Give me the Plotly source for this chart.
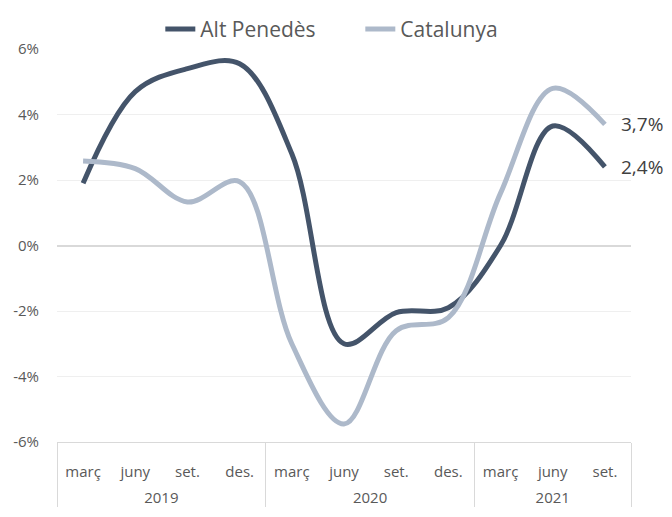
import plotly.graph_objects as go

years = ["2019", "2019", "2019", "2019", "2020", "2020", "2020", "2020", "2021", "2021", "2021"]
quarters = ["març", "juny", "set.", "des.", "març", "juny", "set.", "des.", "març", "juny", "set."]
alt_penedes = [1.9, 4.7, 5.4, 5.55, 2.8, -3.0, -2.05, -1.9, 0.0, 3.65, 2.4]
catalunya = [2.58, 2.35, 1.33, 1.95, -3.0, -5.45, -2.6, -2.2, 1.6, 4.8, 3.7]
end_labels = ["2,4%", "3,7%"]
y_ticks = [-6, -4, -2, 0, 2, 4, 6]
y_tick_labels = ["-6%", "-4%", "-2%", "0%", "2%", "4%", "6%"]

DARK = "#44546a"
LIGHT = "#adb9ca"
TXT = "#595959"
FONT = "Open Sans"

year_row = ["<br>" + y for y in years]

fig = go.Figure()
fig.add_trace(go.Scatter(x=[year_row, quarters], y=alt_penedes, name="Alt Penedès", mode="lines",
                         line=dict(color=DARK, width=5, shape="spline", smoothing=1.0)))
fig.add_trace(go.Scatter(x=[year_row, quarters], y=catalunya, name="Catalunya", mode="lines",
                         line=dict(color=LIGHT, width=5, shape="spline", smoothing=1.0)))

last = len(quarters) - 1
for val, lab in [(alt_penedes[-1], end_labels[0]), (catalunya[-1], end_labels[1])]:
    fig.add_annotation(x=last, y=val, text=lab, showarrow=False, xanchor="left", yanchor="middle",
                       xshift=14, font=dict(family=FONT, size=19, color="#404040"))

# page body adds an 8px offset; figure is sized to compensate
fig.update_layout(
    width=664, height=509,
    margin=dict(l=49, r=41, t=41, b=75, autoexpand=False),
    paper_bgcolor="white", plot_bgcolor="white",
    font=dict(family=FONT, color=TXT),
    legend=dict(orientation="h", x=0.18, xanchor="left", y=1.05, yanchor="middle",
                font=dict(size=21, color=TXT), traceorder="normal",
                entrywidth=155, entrywidthmode="pixels"),
    showlegend=True,
)
fig.update_yaxes(range=[-6, 6], tickvals=y_ticks, ticktext=y_tick_labels,
                 showgrid=True, gridcolor="#efefef", gridwidth=1,
                 zeroline=True, zerolinecolor="#d9d9d9", zerolinewidth=1.5,
                 showline=False, tickfont=dict(size=15, color=TXT), ticklabelstandoff=17,
                 automargin=False, fixedrange=True)
fig.update_xaxes(type="multicategory", showline=True, linecolor="#d9d9d9", linewidth=1,
                 showgrid=False, showdividers=True, dividercolor="#d9d9d9", dividerwidth=1,
                 tickfont=dict(size=15, color=TXT), ticks="", range=[-0.5, last + 0.5],
                 ticklabelstandoff=16, automargin=False)

fig.write_html("out.html")
